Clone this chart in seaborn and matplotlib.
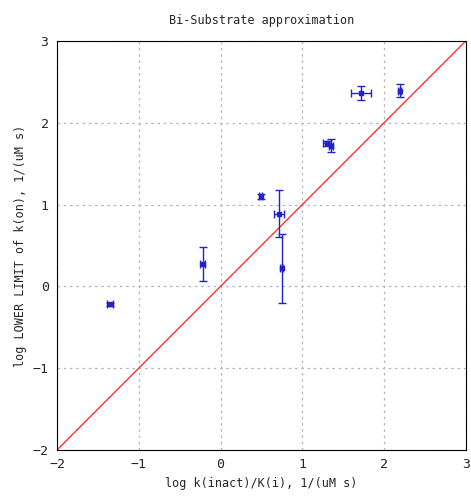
import seaborn as sns
import matplotlib.pyplot as plt
import numpy as np
import pandas as pd

# ---- data
log_kinact_ki = [-1.35, -0.22, 0.49, 0.72, 0.75, 1.30, 1.35, 1.72, 2.19]
log_kon = [-0.22, 0.27, 1.10, 0.89, 0.22, 1.75, 1.72, 2.36, 2.39]
x_err = [0.04, 0.03, 0.02, 0.06, 0.02, 0.05, 0.02, 0.12, 0.02]
y_err = [0.02, 0.21, 0.03, 0.29, 0.42, 0.03, 0.08, 0.085, 0.08]

diag = [-2, 3]
ticks = [-2, -1, 0, 1, 2, 3]

sns.set_style("white")
plt.rcParams["font.family"] = ["DejaVu Sans Mono"]

fig = plt.figure(figsize=(4.71, 4.97), dpi=100)
ax = fig.add_axes([0.121, 0.0946, 0.868, 0.823])

df = pd.DataFrame({"x": log_kinact_ki, "y": log_kon})

sns.lineplot(x=diag, y=diag, ax=ax, color="#ff2020", linewidth=0.9)
ax.errorbar(df["x"], df["y"], xerr=x_err, yerr=y_err, fmt="s", ms=3,
            color="#2222cc", ecolor="#2222cc", elinewidth=1, capsize=3,
            capthick=1)

ax.set_xlim(-2, 3)
ax.set_ylim(-2, 3)
ax.set_xticks(ticks)
ax.set_yticks(ticks)
ax.set_xticklabels([str(t).replace("-", "\u2212") for t in ticks], fontsize=9.5)
ax.set_yticklabels([str(t).replace("-", "\u2212") for t in ticks], fontsize=9.5)
ax.tick_params(direction="in", length=4, width=0.8, color="black", pad=6)
ax.grid(True, color="#b4b4b4", linestyle=(0, (2, 3)), linewidth=0.9)

for s in ax.spines.values():
    s.set_color("black")
    s.set_linewidth(0.8)

ax.set_title("Bi-Substrate approximation", fontsize=8.5, pad=12)
ax.set_xlabel("log k(inact)/K(i), 1/(uM s)", fontsize=8.5, labelpad=4)
ax.set_ylabel("log LOWER LIMIT of k(on), 1/(uM s)", fontsize=8.5, labelpad=4)

fig.savefig("out.png", dpi=100)
